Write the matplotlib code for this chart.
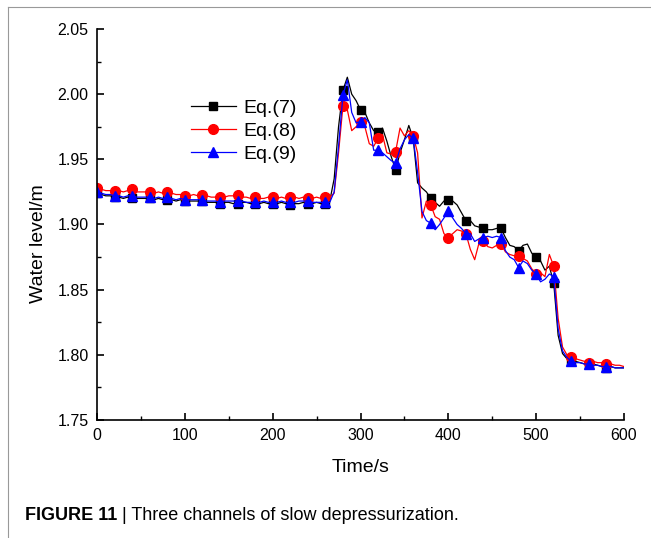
import numpy as np
import matplotlib
matplotlib.use('Agg')
import matplotlib.pyplot as plt
from matplotlib.lines import Line2D

plt.rcParams['font.family'] = ['Liberation Sans', 'DejaVu Sans']

# time axis, one value every 5 s
time_s = np.arange(0, 601, 5)

# water level (m)
eq7 = [1.924, 1.923, 1.922, 1.922, 1.921, 1.921, 1.920, 1.921, 1.920, 1.920,
       1.920, 1.920, 1.920, 1.919, 1.920, 1.919, 1.919, 1.919, 1.918, 1.919,
       1.918, 1.918, 1.918, 1.918, 1.918, 1.917, 1.917, 1.917, 1.916, 1.917,
       1.917, 1.916, 1.916, 1.917, 1.917, 1.916, 1.916, 1.916, 1.917, 1.916,
       1.916, 1.916, 1.917, 1.916, 1.915, 1.916, 1.916, 1.917, 1.916, 1.916,
       1.917, 1.916, 1.916, 1.918, 1.935, 1.975, 2.003, 2.013, 2.000, 1.995,
       1.988, 1.986, 1.978, 1.972, 1.971, 1.974, 1.964, 1.952, 1.942, 1.955,
       1.965, 1.976, 1.966, 1.932, 1.928, 1.925, 1.920, 1.917, 1.914, 1.918,
       1.919, 1.918, 1.915, 1.909, 1.903, 1.903, 1.899, 1.898, 1.897, 1.896,
       1.896, 1.897, 1.897, 1.890, 1.884, 1.883, 1.880, 1.884, 1.885, 1.878,
       1.875, 1.872, 1.865, 1.868, 1.855, 1.815, 1.801, 1.797, 1.795, 1.795,
       1.794, 1.793, 1.793, 1.793, 1.792, 1.791, 1.790, 1.791, 1.790, 1.790,
       1.790]

eq8 = [1.928, 1.927, 1.926, 1.926, 1.926, 1.926, 1.925, 1.926, 1.927, 1.925,
       1.925, 1.925, 1.925, 1.924, 1.925, 1.924, 1.925, 1.924, 1.923, 1.923,
       1.922, 1.922, 1.923, 1.922, 1.923, 1.922, 1.921, 1.921, 1.921, 1.921,
       1.922, 1.922, 1.923, 1.921, 1.921, 1.920, 1.921, 1.920, 1.920, 1.921,
       1.921, 1.920, 1.921, 1.920, 1.921, 1.921, 1.920, 1.921, 1.920, 1.920,
       1.921, 1.920, 1.921, 1.921, 1.924, 1.955, 1.991, 1.988, 1.972, 1.975,
       1.979, 1.975, 1.962, 1.960, 1.966, 1.969, 1.955, 1.954, 1.956, 1.974,
       1.968, 1.972, 1.968, 1.955, 1.905, 1.918, 1.915, 1.906, 1.904, 1.893,
       1.890, 1.893, 1.896, 1.895, 1.893, 1.881, 1.873, 1.886, 1.887, 1.883,
       1.882, 1.884, 1.885, 1.879, 1.877, 1.876, 1.876, 1.874, 1.872, 1.866,
       1.862, 1.863, 1.860, 1.877, 1.868, 1.828, 1.806, 1.800, 1.798, 1.797,
       1.796, 1.795, 1.794, 1.795, 1.794, 1.794, 1.793, 1.793, 1.792, 1.792,
       1.791]

eq9 = [1.925, 1.924, 1.923, 1.923, 1.922, 1.922, 1.921, 1.922, 1.922, 1.921,
       1.921, 1.921, 1.921, 1.920, 1.921, 1.920, 1.921, 1.920, 1.919, 1.920,
       1.919, 1.919, 1.919, 1.919, 1.919, 1.918, 1.918, 1.918, 1.917, 1.918,
       1.918, 1.918, 1.918, 1.918, 1.917, 1.917, 1.917, 1.917, 1.918, 1.917,
       1.917, 1.917, 1.918, 1.917, 1.917, 1.917, 1.918, 1.918, 1.918, 1.917,
       1.917, 1.917, 1.917, 1.917, 1.925, 1.960, 1.999, 2.011, 1.986, 1.978,
       1.979, 1.982, 1.978, 1.957, 1.957, 1.955, 1.952, 1.949, 1.947, 1.958,
       1.965, 1.969, 1.966, 1.940, 1.910, 1.903, 1.901, 1.896, 1.900, 1.905,
       1.910, 1.905, 1.900, 1.897, 1.893, 1.893, 1.887, 1.889, 1.890, 1.891,
       1.890, 1.891, 1.890, 1.880, 1.875, 1.873, 1.867, 1.872, 1.870, 1.865,
       1.862, 1.856, 1.858, 1.862, 1.860, 1.820, 1.803, 1.798, 1.795, 1.794,
       1.794, 1.793, 1.793, 1.792, 1.792, 1.791, 1.791, 1.791, 1.790, 1.790,
       1.790]

labels = ['Eq.(7)', 'Eq.(8)', 'Eq.(9)']

fig = plt.figure(figsize=(6.51, 5.38), dpi=100)
ax = fig.add_axes([97 / 651, 118 / 538, 527 / 651, 391 / 538])

marks = slice(0, 120, 4)   # a marker every 20 s, none at 600
ax.plot(time_s, eq7, color='black', lw=0.9, marker='s', ms=6, markevery=marks, label=labels[0])
ax.plot(time_s, eq8, color='red', lw=0.9, marker='o', ms=7, markevery=marks, label=labels[1])
ax.plot(time_s, eq9, color='blue', lw=0.9, marker='^', ms=7.5, markevery=marks, label=labels[2])

ax.set_xlim(0, 600)
ax.set_ylim(1.75, 2.05)
ax.set_xticks([0, 100, 200, 300, 400, 500, 600])
ax.set_xticks(np.arange(50, 600, 100), minor=True)
ax.set_yticks([1.75, 1.80, 1.85, 1.90, 1.95, 2.00, 2.05])
ax.set_yticks(np.arange(1.775, 2.05, 0.05), minor=True)
ax.yaxis.set_major_formatter(matplotlib.ticker.FormatStrFormatter('%.2f'))

ax.spines['top'].set_visible(False)
ax.spines['right'].set_visible(False)
for s in ('left', 'bottom'):
    ax.spines[s].set_linewidth(1.2)
ax.tick_params(which='major', direction='in', length=5, width=1.2, labelsize=11.5, pad=6)
ax.tick_params(which='minor', direction='in', length=3, width=1.0)

ax.set_xlabel('Time/s', fontsize=14, labelpad=11)
ax.set_ylabel('Water level/m', fontsize=14)
ax.yaxis.set_label_coords(-0.095, 0.45)

ax.legend(loc='upper left', bbox_to_anchor=(0.145, 0.865), frameon=False,
          fontsize=14, handlelength=2.3, handletextpad=0.4, labelspacing=0.28)

# page frame lines (top and left) from the source page
fig.add_artist(Line2D([8 / 651, 1], [1 - 7 / 538, 1 - 7 / 538], color='#999999', lw=0.8))
fig.add_artist(Line2D([8 / 651, 8 / 651], [0, 1 - 7 / 538], color='#999999', lw=0.8))

# caption
cap1 = fig.text(25 / 651, 1 - 516 / 538, 'FIGURE 11', fontsize=13, fontweight='bold', va='center')
ax.annotate(' | Three channels of slow depressurization.', xy=(1, 0.5), xycoords=cap1,
            va='center', ha='left', fontsize=13, annotation_clip=False)

plt.savefig('out.png', dpi=100)
plt.close()
